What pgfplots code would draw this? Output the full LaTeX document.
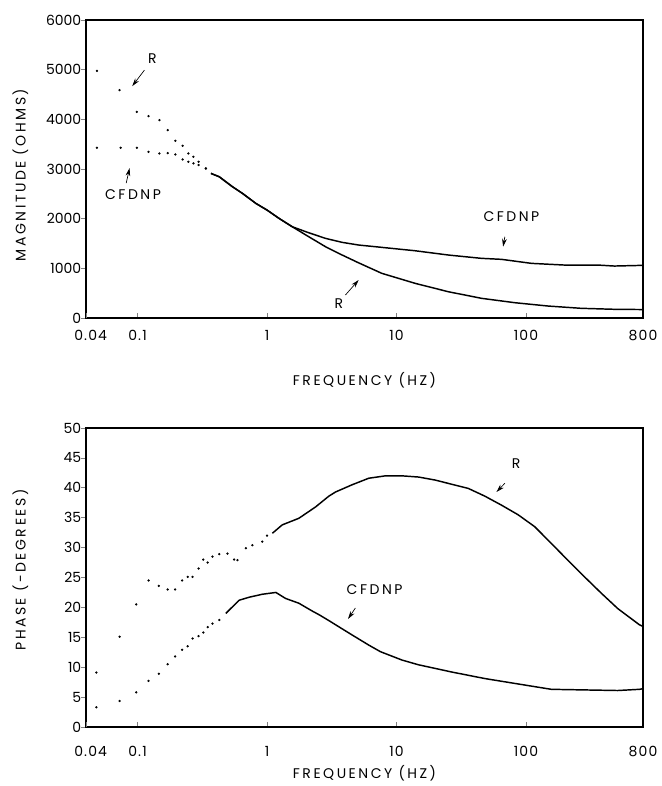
\documentclass[border=0pt]{standalone}
\usepackage{fontspec}
\setmainfont{Poppins}
\usepackage{pgfplots}
\pgfplotsset{compat=1.18}
\usetikzlibrary{arrows.meta}
\newcommand{\lab}[1]{{\addfontfeature{LetterSpace=18}#1}}
\newcommand{\tl}[1]{{\addfontfeature{LetterSpace=8}#1}}
\tikzset{
  ann/.style={font=\fontsize{10.5}{12}\selectfont},
  arr/.style={-{Stealth[length=6pt,width=3.5pt]}, line width=0.5pt},
}
\begin{document}
\begin{tikzpicture}
\path (0,0) rectangle (494.25pt,589.5pt);
\pgfplotsset{
  every axis/.append style={
    xmode=log, scale only axis, width=417.75pt,
    xmin=0.04, xmax=800,
    axis line style={line width=1pt},
    xtick={0.1,1,10,100,800},
    xticklabels={\tl{0.1},\tl{1},\tl{10},\tl{100},\tl{800}},
    extra x ticks={0.04},
    extra x tick labels={\tl{0.04}},
    extra x tick style={xticklabel style={xshift=3.5pt}},
    xtick pos=bottom, ytick pos=left,
    minor xtick={},
    tick align=inside, major tick length=3.5pt,
    x tick style={line width=0.6pt},
    y tick style={line width=0.6pt, xshift=-3.5pt},
    tick label style={font=\fontsize{10.5}{12}\selectfont},
    label style={font=\fontsize{10.5}{12}\selectfont},
    /pgf/number format/assume math mode=true,
    clip=false,
  },
  dots/.style={only marks, mark=*, mark size=0.65pt, black},
  curve/.style={black, line width=1.1pt, mark=none},
}
% ---------------- Magnitude ----------------
\begin{axis}[
  at={(64.5pt,351pt)}, anchor=south west, height=223.5pt,
  ymin=0, ymax=6000,
  ytick={0,1000,2000,3000,4000,5000,6000},
  yticklabels={0,1000,2000,3000,4000,5000,6000},
  xticklabel style={yshift=-5.5pt},
  xlabel={\lab{FREQUENCY (HZ)}},
  xlabel style={at={(axis description cs:0.5,-0.21)}, anchor=center},
  ylabel={\lab{MAGNITUDE (OHMS)}},
  ylabel style={at={(axis description cs:-0.118,0.48)}, anchor=center, rotate=0},
]
\addplot[dots] coordinates {
(0.0486,4976) (0.0727,4588) (0.0988,4150) (0.1216,4064) (0.1476,3984)
(0.171,3783) (0.196,3568) (0.223,3467) (0.247,3313) (0.270,3246)
(0.296,3145) (0.337,3012)};
\addplot[dots] coordinates {
(0.0486,3427) (0.0741,3427) (0.0988,3427) (0.1216,3346) (0.1476,3313)
(0.171,3320) (0.196,3293) (0.223,3193) (0.247,3145) (0.270,3113)
(0.296,3080) (0.337,3012)};
\addplot[curve] coordinates {
(0.369,2911) (0.428,2843) (0.541,2642) (0.646,2509) (0.819,2308)
(1.0,2173) (1.237,2006) (1.566,1837) (2.1,1636) (2.83,1435) (3.80,1268)
(5.1,1110) (7.7,899) (13.9,698) (25.1,529) (45.3,396) (81.9,308)
(147.6,241) (266,195) (481,175) (800,170)};
\addplot[curve] coordinates {
(0.369,2911) (0.428,2843) (0.541,2642) (0.646,2509) (0.819,2308)
(1.0,2173) (1.237,2006) (1.566,1837) (2.1,1716) (2.83,1603) (3.80,1523)
(5.1,1469) (7.7,1422) (13.9,1354) (25.1,1268) (45.3,1201) (64.6,1181)
(110,1100) (198,1066) (358,1066) (481,1046) (800,1060)};
\node[ann] at (axis cs:0.130,5231) {R};
\draw[arr] (axis cs:0.113,4990) -- (axis cs:0.091,4668);
\node[ann] at (axis cs:0.0923,2475) {\lab{CFDNP}};
\draw[arr] (axis cs:0.0818,2716) -- (axis cs:0.0868,3018);
\node[ann] at (axis cs:3.58,296) {R};
\draw[arr] (axis cs:4.03,463) -- (axis cs:5.1,765);
\node[ann] at (axis cs:77.1,2038) {\lab{CFDNP}};
\draw[arr] (axis cs:68.6,1636) -- (axis cs:66.5,1435);
\end{axis}
% ---------------- Phase ----------------
\begin{axis}[
  at={(64.5pt,44.25pt)}, anchor=south west, height=224.25pt,
  ymin=0, ymax=50,
  ytick={0,5,10,15,20,25,30,35,40,45,50},
  yticklabels={0,5,10,15,20,25,30,35,40,45,50},
  xticklabel style={yshift=-11pt},
  xlabel={\lab{FREQUENCY (HZ)}},
  xlabel style={at={(axis description cs:0.5,-0.154)}, anchor=center},
  ylabel={\lab{PHASE (-DEGREES)}},
  ylabel style={at={(axis description cs:-0.118,0.525)}, anchor=center, rotate=0},
]
\addplot[dots] coordinates {
(0.0481,9.1) (0.0727,15.1) (0.0977,20.5) (0.1216,24.5) (0.146,23.6)
(0.171,23.0) (0.195,23.0) (0.221,24.5) (0.244,25.1) (0.266,25.1)
(0.296,26.5) (0.322,28.0) (0.348,27.5) (0.379,28.5) (0.428,28.9)
(0.495,29.0) (0.557,28.0) (0.591,27.9) (0.686,29.9) (0.771,30.4)
(0.92,31.0) (1.0,32.0)};
\addplot[curve] coordinates {
(1.1,32.4) (1.31,33.8) (1.76,34.9) (2.37,36.8) (3.0,38.6) (3.38,39.3)
(4.53,40.5) (6.1,41.6) (8.2,42.0) (11.0,42.0) (14.8,41.8) (19.8,41.3)
(26.6,40.6) (35.8,39.9) (48.1,38.6) (64.6,37.1) (86.7,35.5) (116.6,33.5)
(156.7,30.7) (210,27.9) (283,25.1) (380,22.4) (511,19.8) (750,17.1)
(800,16.8)};
\addplot[dots] coordinates {
(0.0481,3.3) (0.0727,4.35) (0.0977,5.8) (0.1216,7.7) (0.146,8.9)
(0.171,10.5) (0.195,11.8) (0.221,12.9) (0.244,13.5) (0.266,14.8)
(0.296,15.2) (0.322,15.8) (0.348,16.7) (0.379,17.3) (0.428,17.9)};
\addplot[curve] coordinates {
(0.481,19.0) (0.541,20.1) (0.609,21.2) (0.727,21.7) (0.92,22.2)
(1.17,22.5) (1.39,21.5) (1.76,20.7) (2.23,19.4) (2.51,18.8) (3.0,17.8)
(3.38,17.1) (4.53,15.4) (6.1,13.7) (7.5,12.6) (11.0,11.2) (14.8,10.4)
(26.6,9.2) (48.1,8.1) (86.7,7.2) (156.7,6.3) (283,6.2) (511,6.1)
(750,6.3) (800,6.4)};
\node[ann] at (axis cs:83.8,44.0) {R};
\draw[arr] (axis cs:68.6,40.75) -- (axis cs:59.1,39.3);
\node[ann] at (axis cs:6.77,22.9) {\lab{CFDNP}};
\draw[arr] (axis cs:4.81,19.9) -- (axis cs:4.22,18.06);
\end{axis}
\end{tikzpicture}
\end{document}
